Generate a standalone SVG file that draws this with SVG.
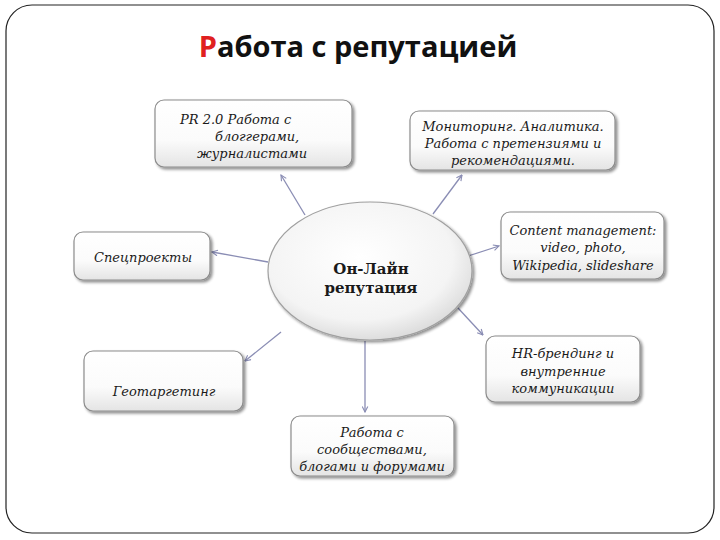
<svg xmlns="http://www.w3.org/2000/svg" width="720" height="540" viewBox="0 0 720 540">
<defs>
<linearGradient id="boxg" x1="0" y1="0" x2="0" y2="1">
<stop offset="0" stop-color="#ffffff"/>
<stop offset="0.6" stop-color="#fbfbfb"/>
<stop offset="1" stop-color="#e4e4e4"/>
</linearGradient>
<radialGradient id="ellg" cx="0.45" cy="0.4" r="0.65">
<stop offset="0" stop-color="#ffffff"/>
<stop offset="0.7" stop-color="#f4f4f4"/>
<stop offset="1" stop-color="#d6d6d6"/>
</radialGradient>
<filter id="sh" x="-10%" y="-10%" width="125%" height="130%">
<feGaussianBlur in="SourceAlpha" stdDeviation="1.5"/>
<feOffset dx="1.5" dy="2" result="b"/>
<feComponentTransfer><feFuncA type="linear" slope="0.45"/></feComponentTransfer>
<feMerge><feMergeNode/><feMergeNode in="SourceGraphic"/></feMerge>
</filter>
<marker id="arr" viewBox="0 0 10 10" refX="9" refY="5" markerWidth="7" markerHeight="7" orient="auto" markerUnits="userSpaceOnUse">
<path d="M1,1 L9,5 L1,9" fill="none" stroke="#8a8db4" stroke-width="1.6"/>
</marker>
</defs>
<style>
.box{fill:url(#boxg);stroke:#8c8c8c;stroke-width:1.2;filter:url(#sh)}
.t{font-family:"DejaVu Serif","Liberation Serif",serif;font-style:italic;font-size:13px;fill:#1a1a1a}
.c{text-anchor:middle}
.con{stroke:#8a8db4;stroke-width:1.3;fill:none;marker-end:url(#arr)}
</style>
<rect width="720" height="540" fill="#ffffff"/>
<rect x="6" y="5" width="708" height="528" rx="26" ry="26" fill="none" stroke="#222" stroke-width="1.2"/>
<text x="358" y="57" text-anchor="middle" font-family="Open Sans, Liberation Sans, sans-serif" font-weight="bold" font-size="29" fill="#111"><tspan fill="#e02020">Р</tspan>абота с репутацией</text>

<g id="connectors">
<line class="con" x1="305" y1="215" x2="281" y2="175"/>
<line class="con" x1="433" y1="214" x2="462" y2="175"/>
<line class="con" x1="468" y1="256" x2="499" y2="246"/>
<line class="con" x1="268" y1="262" x2="212" y2="252"/>
<line class="con" x1="281" y1="332" x2="245" y2="361"/>
<line class="con" x1="458" y1="308" x2="483" y2="335"/>
<line class="con" x1="365" y1="341" x2="365" y2="412"/>
</g>

<g id="center">
<ellipse cx="370" cy="271" rx="102" ry="69" fill="url(#ellg)" stroke="#a0a0a0" stroke-width="1.2" filter="url(#sh)"/>
<text x="371" y="274" text-anchor="middle" font-family="DejaVu Serif, Liberation Serif, serif" font-weight="bold" font-size="15" fill="#1a1a1a">Он-Лайн</text>
<text x="371" y="293" text-anchor="middle" font-family="DejaVu Serif, Liberation Serif, serif" font-weight="bold" font-size="15" fill="#1a1a1a">репутация</text>
</g>

<g id="pr">
<rect class="box" x="155" y="100" width="197" height="67" rx="9"/>
<text class="t" x="180" y="124">PR 2.0 Работа с</text>
<text class="t" x="215" y="141">блоггерами,</text>
<text class="t" x="197" y="158">журналистами</text>
</g>

<g id="monitoring">
<rect class="box" x="410" y="111" width="205" height="59" rx="9"/>
<text class="t c" x="513" y="131">Мониторинг. Аналитика.</text>
<text class="t c" x="513" y="148">Работа с претензиями и</text>
<text class="t c" x="513" y="165">рекомендациями.</text>
</g>

<g id="content">
<rect class="box" x="501" y="212" width="163" height="67" rx="9"/>
<text class="t c" x="583" y="235">Content management:</text>
<text class="t c" x="583" y="252">video, photo,</text>
<text class="t c" x="583" y="270">Wikipedia, slideshare</text>
</g>

<g id="spec">
<rect class="box" x="74" y="232" width="136" height="48" rx="9"/>
<text class="t" x="94" y="262">Спецпроекты</text>
</g>

<g id="geo">
<rect class="box" x="84" y="351" width="159" height="60" rx="9"/>
<text class="t c" x="164" y="396">Геотаргетинг</text>
</g>

<g id="hr">
<rect class="box" x="486" y="336" width="154" height="66" rx="9"/>
<text class="t c" x="563" y="358">HR-брендинг и</text>
<text class="t c" x="563" y="376">внутренние</text>
<text class="t c" x="563" y="393">коммуникации</text>
</g>

<g id="communities">
<rect class="box" x="291" y="416" width="163" height="60" rx="9"/>
<text class="t c" x="372" y="437">Работа с</text>
<text class="t c" x="372" y="454">сообществами,</text>
<text class="t c" x="372" y="471">блогами и форумами</text>
</g>
</svg>
